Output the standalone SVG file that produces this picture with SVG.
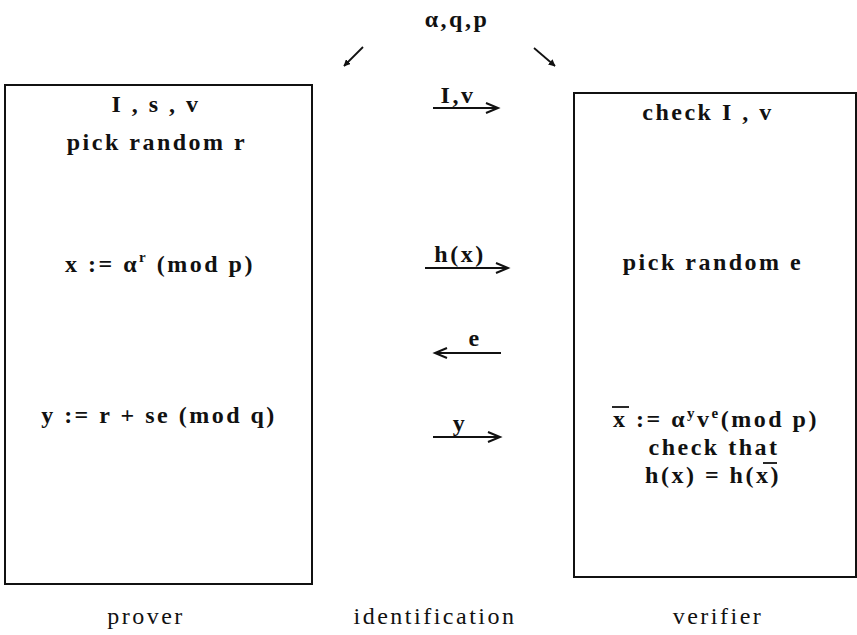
<svg xmlns="http://www.w3.org/2000/svg" width="857" height="635" viewBox="0 0 857 635">
<defs>
<style>
.t{font-family:"Liberation Serif","Times New Roman",serif;font-weight:bold;font-size:24px;letter-spacing:2.5px;fill:#111;text-anchor:middle}
.s{font-family:"Liberation Serif","Times New Roman",serif;font-weight:bold;font-size:15px;fill:#111}
.l{font-family:"Liberation Serif","Times New Roman",serif;font-size:24px;letter-spacing:2.5px;fill:#111;text-anchor:middle}
.box{fill:none;stroke:#111;stroke-width:2}
.ln{fill:none;stroke:#111;stroke-width:1.8}
.ch{fill:none;stroke:#111;stroke-width:2}
</style>
<marker id="ah" viewBox="0 0 10 10" refX="9" refY="5" markerWidth="7" markerHeight="7" orient="auto" markerUnits="userSpaceOnUse">
<path d="M0,0 L10,5 L0,10 z" fill="#111"/>
</marker>
</defs>
<rect width="857" height="635" fill="#fff"/>

<text id="params" class="t" x="457" y="27">α,q,p</text>

<g id="prover">
<rect class="box" x="5" y="85" width="307" height="499"/>
<text class="t" x="156" y="112">I , s , v</text>
<text class="t" x="157" y="150">pick random r</text>
<text class="t" x="160" y="272">x := α<tspan class="s" dy="-10">r</tspan><tspan dy="10"> (mod p)</tspan></text>
<text class="t" x="159" y="423">y := r + se (mod q)</text>
</g>

<g id="verifier">
<rect class="box" x="574" y="93" width="282" height="484"/>
<text class="t" x="708" y="120">check I , v</text>
<text class="t" x="713" y="270">pick random e</text>
<text class="t" x="716" y="427">x := α<tspan class="s" dy="-9">y</tspan><tspan dy="9">v</tspan><tspan class="s" dy="-9">e</tspan><tspan dy="9">(mod p)</tspan></text>
<line class="ln" x1="612" y1="407" x2="629" y2="407"/>
<text class="t" x="714" y="455">check that</text>
<text class="t" x="713" y="483">h(x) = h(x)</text>
<line class="ln" x1="763" y1="463" x2="777" y2="463"/>
</g>

<g id="labels">
<text class="l" x="146" y="624">prover</text>
<text class="l" x="435" y="624">identification</text>
<text class="l" x="718" y="624">verifier</text>
</g>

<g id="connectors">
<line class="ln" x1="363" y1="47" x2="344" y2="66" marker-end="url(#ah)"/>
<line class="ln" x1="534" y1="48" x2="555" y2="66" marker-end="url(#ah)"/>

<text class="t" x="458" y="103">I,v</text>
<line class="ln" x1="433" y1="108" x2="497" y2="108"/>
<path class="ch" d="M486,103 L498,108 L486,113"/>

<text class="t" x="460" y="262">h(x)</text>
<line class="ln" x1="425" y1="268" x2="506" y2="268"/>
<path class="ch" d="M496,263 L508,268 L496,273"/>

<text class="t" x="475" y="346">e</text>
<line class="ln" x1="436" y1="353" x2="501" y2="353"/>
<path class="ch" d="M447,348 L435,353 L447,358"/>

<text class="t" x="460" y="431">y</text>
<line class="ln" x1="433" y1="437" x2="498" y2="437"/>
<path class="ch" d="M488,432 L500,437 L488,442"/>
</g>
</svg>
